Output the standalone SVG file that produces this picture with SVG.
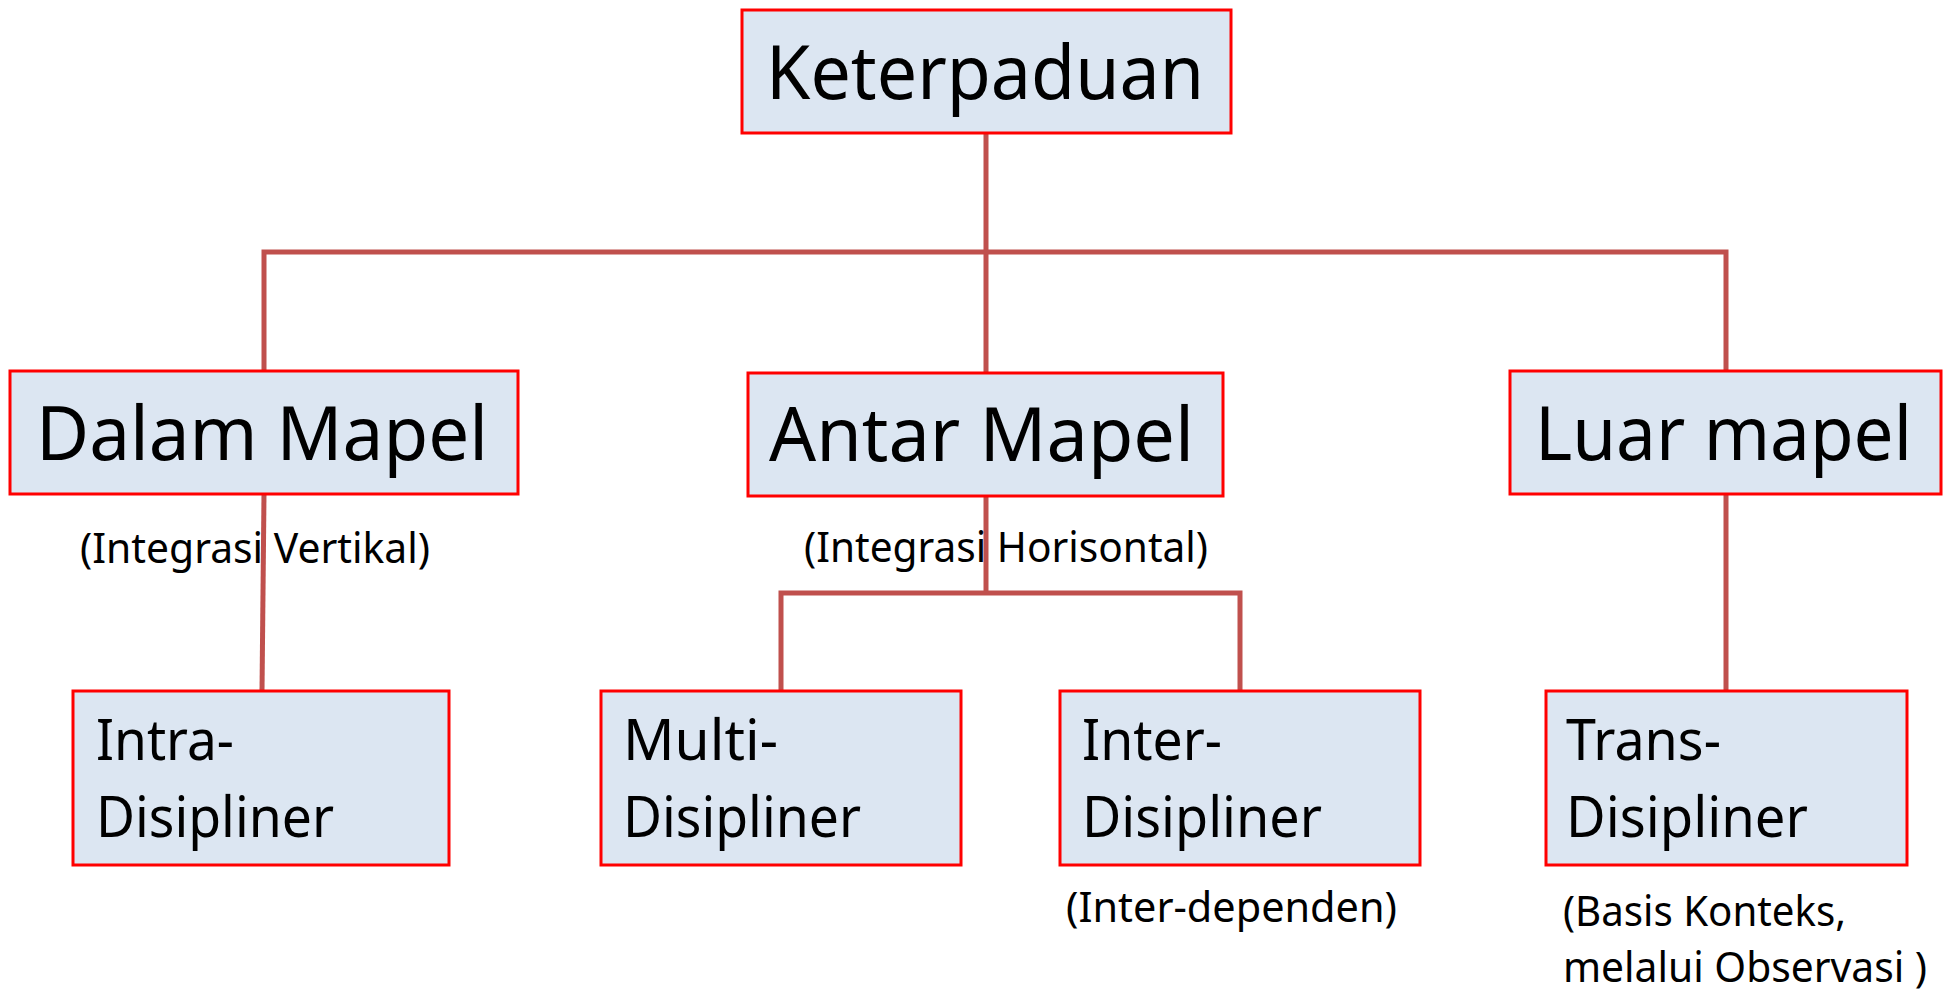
<svg xmlns="http://www.w3.org/2000/svg" width="1946" height="991" viewBox="0 0 1946 991">
<style>
.box{fill:#DCE6F2;stroke:#FF0000;stroke-width:3}
.con{fill:none;stroke:#C0504D;stroke-width:5;stroke-linejoin:miter}
text{font-family:"Noto Sans","Open Sans","DejaVu Sans",sans-serif;fill:#000000}
.big{font-size:75px}
.mid{font-size:56px}
.sm{font-size:42px}
</style>
<rect width="1946" height="991" fill="#FFFFFF"/>
<g id="connectors">
<path class="con" d="M986 133 L986 373"/>
<path class="con" d="M264 371 L264 252 L1726 252 L1726 371"/>
<path class="con" d="M264 494 L262 691"/>
<path class="con" d="M986 496 L986 593"/>
<path class="con" d="M781 691 L781 593 L1240 593 L1240 691"/>
<path class="con" d="M1726 494 L1726 691"/>
</g>
<g id="keterpaduan">
<rect class="box" x="742" y="10" width="489" height="123"/>
<text class="big" x="766" y="99" textLength="438" lengthAdjust="spacingAndGlyphs">Keterpaduan</text>
</g>
<g id="dalam-mapel">
<rect class="box" x="10" y="371" width="508" height="123"/>
<text class="big" x="36" y="460" textLength="452" lengthAdjust="spacingAndGlyphs">Dalam Mapel</text>
</g>
<g id="antar-mapel">
<rect class="box" x="748" y="373" width="475" height="123"/>
<text class="big" x="769" y="461" textLength="425" lengthAdjust="spacingAndGlyphs">Antar Mapel</text>
</g>
<g id="luar-mapel">
<rect class="box" x="1510" y="371" width="431" height="123"/>
<text class="big" x="1535" y="460" textLength="377" lengthAdjust="spacingAndGlyphs">Luar mapel</text>
</g>
<g id="label-vertikal">
<text class="sm" x="80" y="563" textLength="350" lengthAdjust="spacingAndGlyphs">(Integrasi Vertikal)</text>
</g>
<g id="label-horisontal">
<text class="sm" x="804" y="562" textLength="404" lengthAdjust="spacingAndGlyphs">(Integrasi Horisontal)</text>
</g>
<g id="intra-disipliner">
<rect class="box" x="73" y="691" width="376" height="174"/>
<text class="mid" x="96" y="760" textLength="138" lengthAdjust="spacingAndGlyphs">Intra-</text>
<text class="mid" x="96" y="837" textLength="238" lengthAdjust="spacingAndGlyphs">Disipliner</text>
</g>
<g id="multi-disipliner">
<rect class="box" x="601" y="691" width="360" height="174"/>
<text class="mid" x="623" y="760" textLength="155" lengthAdjust="spacingAndGlyphs">Multi-</text>
<text class="mid" x="623" y="837" textLength="238" lengthAdjust="spacingAndGlyphs">Disipliner</text>
</g>
<g id="inter-disipliner">
<rect class="box" x="1060" y="691" width="360" height="174"/>
<text class="mid" x="1082" y="760" textLength="140" lengthAdjust="spacingAndGlyphs">Inter-</text>
<text class="mid" x="1082" y="837" textLength="240" lengthAdjust="spacingAndGlyphs">Disipliner</text>
</g>
<g id="trans-disipliner">
<rect class="box" x="1546" y="691" width="361" height="174"/>
<text class="mid" x="1566" y="760" textLength="155" lengthAdjust="spacingAndGlyphs">Trans-</text>
<text class="mid" x="1566" y="837" textLength="242" lengthAdjust="spacingAndGlyphs">Disipliner</text>
</g>
<g id="label-interdependen">
<text class="sm" x="1066" y="922" textLength="331" lengthAdjust="spacingAndGlyphs">(Inter-dependen)</text>
</g>
<g id="label-basis">
<text class="sm" x="1563" y="926" textLength="283" lengthAdjust="spacingAndGlyphs">(Basis Konteks,</text>
<text class="sm" x="1563" y="982" textLength="364" lengthAdjust="spacingAndGlyphs">melalui Observasi )</text>
</g>
</svg>
